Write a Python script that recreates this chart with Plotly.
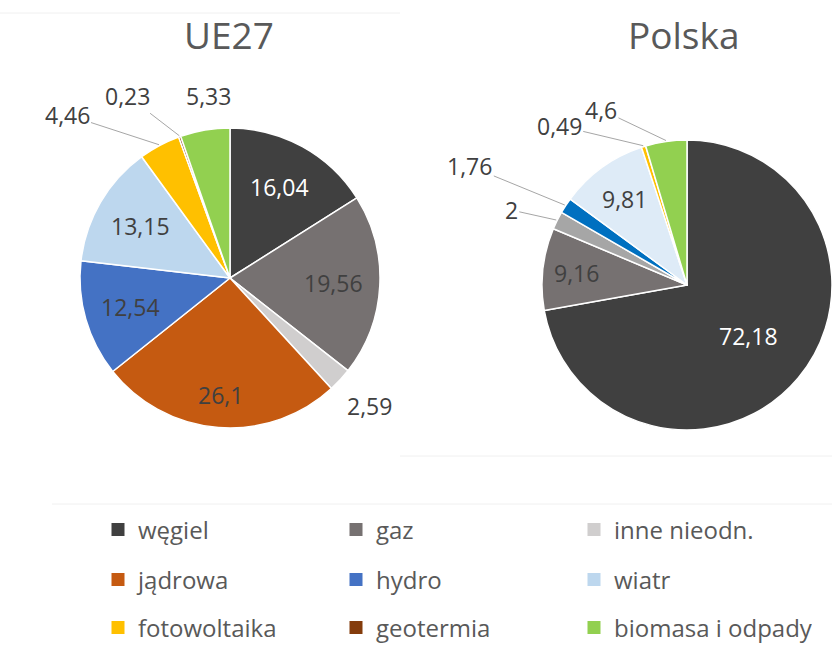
import math
import plotly.graph_objects as go

# ---------------- data ----------------
categories = ["węgiel", "gaz", "inne nieodn.", "jądrowa", "hydro", "wiatr",
              "fotowoltaika", "geotermia", "biomasa i odpady"]
legend_colors = ["#404040", "#767171", "#d0cece", "#c55a11", "#4472c4", "#bdd7ee",
                 "#ffc000", "#843c0c", "#92d050"]

ue_labels = ["węgiel", "gaz", "inne nieodn.", "jądrowa", "hydro", "wiatr",
             "fotowoltaika", "geotermia", "biomasa i odpady"]
ue_values = [16.04, 19.56, 2.59, 26.1, 12.54, 13.15, 4.46, 0.23, 5.33]
ue_colors = ["#404040", "#767171", "#d0cece", "#c55a11", "#4472c4", "#bdd7ee",
             "#ffc000", "#843c0c", "#92d050"]

pl_labels = ["węgiel", "gaz", "inne nieodn.", "hydro", "wiatr",
             "fotowoltaika", "biomasa i odpady"]
pl_values = [72.18, 9.16, 2, 1.76, 9.81, 0.49, 4.6]
pl_colors = ["#404040", "#767171", "#a6a6a6", "#0070c0", "#deebf7",
             "#ffc000", "#92d050"]

titles = ["UE27", "Polska"]

# ---------------- layout helpers ----------------
W, H = 832, 646
FONT = "Open Sans"
TXT = "#404040"
LBL = 23


def fx(x):
    return x / W


def fy(y):
    return 1 - y / H


def fmt(v):
    return f"{v:g}".replace(".", ",")


# pie geometry (pixels): centre x, centre y, radius
ue_geo = (230, 278, 150)
pl_geo = (687, 285, 145)

# slices labelled outside: offset of label (px) from the slice edge, leader line?
ue_out = {"inne nieodn.": (29, 25, False), "fotowoltaika": (-92, -30, True),
          "geotermia": (-52, -40, True), "biomasa i odpady": (4, -33, False)}
pl_out = {"inne nieodn.": (-45, -10, True), "hydro": (-95, -39, True),
          "fotowoltaika": (-84, -20, True), "biomasa i odpady": (-65, -31, True)}
# radial position (fraction of radius) of labels drawn inside slices
ue_in = {"jądrowa": 0.78}
pl_in = {"węgiel": 0.55, "gaz": 0.77, "wiatr": 0.73}
white_text = {"węgiel"}

fig = go.Figure()
annotations = []


def add_pie(labels, values, colors, geo, outside, inside, name):
    cx, cy, r = geo
    fig.add_trace(go.Pie(
        labels=labels, values=values, name=name,
        textinfo="none",
        marker=dict(colors=colors, line=dict(color="#ffffff", width=1.5)),
        sort=False, direction="clockwise", rotation=0,
        showlegend=False, hoverinfo="label+value",
        domain=dict(x=[fx(cx - r), min(1, fx(cx + r))], y=[fy(cy + r), fy(cy - r)]),
    ))
    total = sum(values)
    cum = 0
    for l, v in zip(labels, values):
        mid = (cum + v / 2) / total * 2 * math.pi
        cum += v
        if l not in outside:
            k = inside.get(l, 0.69)
            annotations.append(dict(
                x=fx(cx + k * r * math.sin(mid)), y=fy(cy - k * r * math.cos(mid)),
                xref="paper", yref="paper", xanchor="center", yanchor="middle",
                text=fmt(v), showarrow=False,
                font=dict(family=FONT, size=LBL,
                          color="#ffffff" if l in white_text else TXT)))
            continue
        dx, dy, leader = outside[l]
        tx = cx + (r + 1) * math.sin(mid)
        ty = cy - (r + 1) * math.cos(mid)
        if leader:
            annotations.append(dict(
                x=fx(tx), y=fy(ty), xref="paper", yref="paper",
                text=fmt(v), showarrow=True, arrowhead=0, arrowwidth=1,
                arrowcolor="#a6a6a6", ax=dx, ay=dy, standoff=0,
                font=dict(family=FONT, size=LBL, color=TXT)))
        else:
            annotations.append(dict(
                x=fx(tx), y=fy(ty), xref="paper", yref="paper",
                xanchor="center", yanchor="middle",
                text=fmt(v), showarrow=False, xshift=dx, yshift=-dy,
                font=dict(family=FONT, size=LBL, color=TXT)))


add_pie(ue_labels, ue_values, ue_colors, ue_geo, ue_out, ue_in, titles[0])
add_pie(pl_labels, pl_values, pl_colors, pl_geo, pl_out, pl_in, titles[1])

# titles
for t, xc in zip(titles, [229, 684]):
    annotations.append(dict(x=fx(xc), y=fy(35), xref="paper", yref="paper",
                            xanchor="center", yanchor="middle",
                            text=t, showarrow=False,
                            font=dict(family=FONT, size=37, color="#595959")))

# legend: three rows, three columns
legend_names = ["legend", "legend2", "legend3"]
for i, (cat, col) in enumerate(zip(categories, legend_colors)):
    fig.add_trace(go.Scatter(
        x=[None], y=[None], mode="markers", name=cat,
        marker=dict(symbol="square", size=13, color=col),
        legend=legend_names[i // 3], showlegend=True, hoverinfo="skip"))

row_y = [530, 580, 628]
leg_common = dict(orientation="h", entrywidth=193, entrywidthmode="pixels",
                  font=dict(family=FONT, size=24, color="#595959"),
                  bgcolor="rgba(0,0,0,0)", xanchor="left", yanchor="middle",
                  itemsizing="trace", x=fx(98), traceorder="normal")

fig.update_layout(
    width=W, height=H,
    margin=dict(l=0, r=0, t=0, b=0, autoexpand=False),
    paper_bgcolor="#ffffff", plot_bgcolor="#ffffff",
    xaxis=dict(visible=False), yaxis=dict(visible=False),
    annotations=annotations,
    legend=dict(**leg_common, y=fy(row_y[0])),
    legend2=dict(**leg_common, y=fy(row_y[1])),
    legend3=dict(**leg_common, y=fy(row_y[2])),
    shapes=[
        dict(type="line", xref="paper", yref="paper", x0=0, x1=fx(400),
             y0=fy(13), y1=fy(13), line=dict(color="#f0f0f0", width=1)),
        dict(type="line", xref="paper", yref="paper", x0=fx(400), x1=1,
             y0=fy(456), y1=fy(456), line=dict(color="#f0f0f0", width=1)),
        dict(type="line", xref="paper", yref="paper", x0=fx(52), x1=1,
             y0=fy(504), y1=fy(504), line=dict(color="#f0f0f0", width=1)),
    ],
)

fig.write_html("out.html",
               config={"displayModeBar": False},
               post_script="document.body.style.margin='0';"
                           "document.body.style.overflow='hidden';")
